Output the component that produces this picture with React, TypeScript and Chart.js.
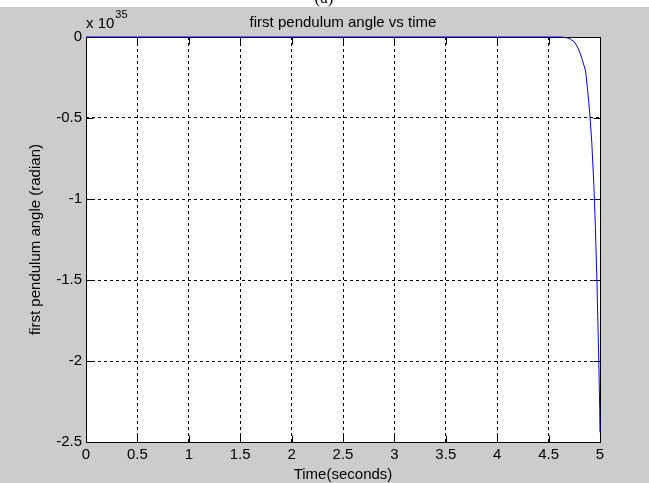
import React, { useEffect, useRef } from 'react';
import { Chart, registerables } from 'chart.js';

Chart.register(...registerables);

// Data (angle values are in units of 1e35 rad)
const timeSeconds = [0, 0.5, 1, 1.5, 2, 2.5, 3, 3.5, 4, 4.5, 4.6, 4.65, 4.7, 4.75, 4.78, 4.81, 4.83, 4.86, 4.88, 4.9, 4.92, 4.94, 4.955, 4.97, 4.98, 4.99, 4.997, 5.0];
const angleE35 = [0, 0, 0, 0, 0, 0, 0, 0, 0, 0, 0, -0.002, -0.008, -0.03, -0.06, -0.105, -0.145, -0.21, -0.33, -0.47, -0.65, -0.91, -1.17, -1.5, -1.78, -2.05, -2.3, -2.44];

const xTickValues = [0, 0.5, 1, 1.5, 2, 2.5, 3, 3.5, 4, 4.5, 5];
const yTickValues = [0, -0.5, -1, -1.5, -2, -2.5];
const xTickLabels = ['0', '0.5', '1', '1.5', '2', '2.5', '3', '3.5', '4', '4.5', '5'];
const yTickLabels = ['0', '-0.5', '-1', '-1.5', '-2', '-2.5'];

const titleText = 'first pendulum angle vs time';
const xAxisLabel = 'Time(seconds)';
const yAxisLabel = 'first pendulum angle (radian)';
const exponentBase = 'x 10';
const exponentPower = '35';
const captionText = '(a)';

const FONT = '"Liberation Sans", Arial, sans-serif';

function labelFor(values: number[], labels: string[], v: number) {
  const i = values.findIndex((t) => Math.abs(t - v) < 1e-9);
  return i >= 0 ? labels[i] : '';
}

const decorPlugin = {
  id: 'matlabDecor',
  beforeDraw(chart: any) {
    const { ctx, width, height, chartArea } = chart;
    ctx.save();
    ctx.fillStyle = '#ffffff';
    ctx.fillRect(0, 0, width, height);
    ctx.fillStyle = '#000000';
    ctx.font = '17px "Liberation Serif", serif';
    ctx.textAlign = 'center';
    ctx.textBaseline = 'alphabetic';
    ctx.fillText(captionText, 324, 3);
    ctx.fillStyle = '#cccccc';
    ctx.fillRect(0, 7, width, height - 7);
    ctx.fillStyle = '#ffffff';
    ctx.fillRect(chartArea.left, chartArea.top, chartArea.right - chartArea.left, chartArea.bottom - chartArea.top);
    ctx.restore();
  },
  beforeDatasetsDraw(chart: any) {
    const { ctx, chartArea, scales } = chart;
    const { left, right, top, bottom } = chartArea;
    ctx.save();
    ctx.strokeStyle = '#000000';
    ctx.lineWidth = 1;
    ctx.setLineDash([]);
    const L = Math.round(left) + 0.5;
    const R = Math.round(right) + 0.5;
    const T = Math.round(top) + 0.5;
    const B = Math.round(bottom) + 0.5;
    ctx.strokeRect(L, T, R - L, B - T);
    const tl = 7;
    ctx.beginPath();
    for (const v of xTickValues) {
      const px = Math.round(scales.x.getPixelForValue(v)) + 0.5;
      ctx.moveTo(px, B);
      ctx.lineTo(px, B - tl);
      ctx.moveTo(px, T);
      ctx.lineTo(px, T + tl);
    }
    for (const v of yTickValues) {
      const py = Math.round(scales.y.getPixelForValue(v)) + 0.5;
      ctx.moveTo(L, py);
      ctx.lineTo(L + tl, py);
      ctx.moveTo(R, py);
      ctx.lineTo(R - tl, py);
    }
    ctx.stroke();
    ctx.restore();
  },
  afterDraw(chart: any) {
    const { ctx, chartArea } = chart;
    const cx = (chartArea.left + chartArea.right) / 2;
    const cy = (chartArea.top + chartArea.bottom) / 2;
    ctx.save();
    ctx.fillStyle = '#000000';
    ctx.textAlign = 'center';
    ctx.textBaseline = 'alphabetic';
    ctx.font = `15px ${FONT}`;
    ctx.fillText(titleText, cx, 27);
    ctx.textBaseline = 'middle';
    ctx.fillText(xAxisLabel, cx, 475);
    ctx.save();
    ctx.translate(36, cy);
    ctx.rotate(-Math.PI / 2);
    ctx.fillText(yAxisLabel, 0, 0);
    ctx.restore();
    ctx.textAlign = 'left';
    ctx.textBaseline = 'alphabetic';
    ctx.font = `15px ${FONT}`;
    ctx.fillText(exponentBase, 86, 28);
    const w = ctx.measureText(exponentBase).width;
    ctx.font = `11px ${FONT}`;
    ctx.fillText(exponentPower, 86 + w + 1, 18);
    ctx.restore();
  },
};

export default function App() {
  const ref = useRef<HTMLCanvasElement | null>(null);
  useEffect(() => {
    document.body.style.margin = '0';
    const canvas = ref.current;
    if (!canvas) return;
    const points = timeSeconds.map((t, i) => ({ x: t, y: angleE35[i] }));
    const chart = new Chart(canvas, {
      type: 'line',
      data: {
        datasets: [
          {
            data: points,
            borderColor: '#0000ff',
            borderWidth: 1,
            pointRadius: 0,
            tension: 0,
            fill: false,
            clip: false as any,
          },
        ],
      },
      options: {
        responsive: false,
        animation: false,
        devicePixelRatio: 1,
        layout: { padding: { left: 0, right: 49, top: 37, bottom: 0 } },
        plugins: { legend: { display: false }, tooltip: { enabled: false }, title: { display: false } },
        scales: {
          x: {
            type: 'linear',
            min: 0,
            max: 5,
            afterBuildTicks: (scale: any) => {
              scale.ticks = xTickValues.map((v) => ({ value: v }));
            },
            afterFit: (scale: any) => {
              scale.height = 41;
            },
            ticks: {
              autoSkip: false,
              maxRotation: 0,
              minRotation: 0,
              padding: 4,
              color: '#000000',
              font: { family: FONT, size: 15 },
              callback: (v: any) => labelFor(xTickValues, xTickLabels, Number(v)),
            },
            grid: { color: '#000000', lineWidth: 1, drawTicks: false },
            border: { display: false, dash: [3, 3] },
          },
          y: {
            type: 'linear',
            min: -2.5,
            max: 0,
            afterBuildTicks: (scale: any) => {
              scale.ticks = yTickValues.map((v) => ({ value: v }));
            },
            afterFit: (scale: any) => {
              scale.width = 86;
            },
            ticks: {
              autoSkip: false,
              padding: 4,
              color: '#000000',
              font: { family: FONT, size: 15 },
              callback: (v: any) => labelFor(yTickValues, yTickLabels, Number(v)),
            },
            grid: { color: '#000000', lineWidth: 1, drawTicks: false },
            border: { display: false, dash: [3, 3] },
          },
        },
      },
      plugins: [decorPlugin],
    });
    return () => chart.destroy();
  }, []);
  return (
    <div style={{ width: 649, height: 483 }}>
      <canvas ref={ref} width={649} height={483} style={{ display: 'block', width: 649, height: 483 }} />
    </div>
  );
}
